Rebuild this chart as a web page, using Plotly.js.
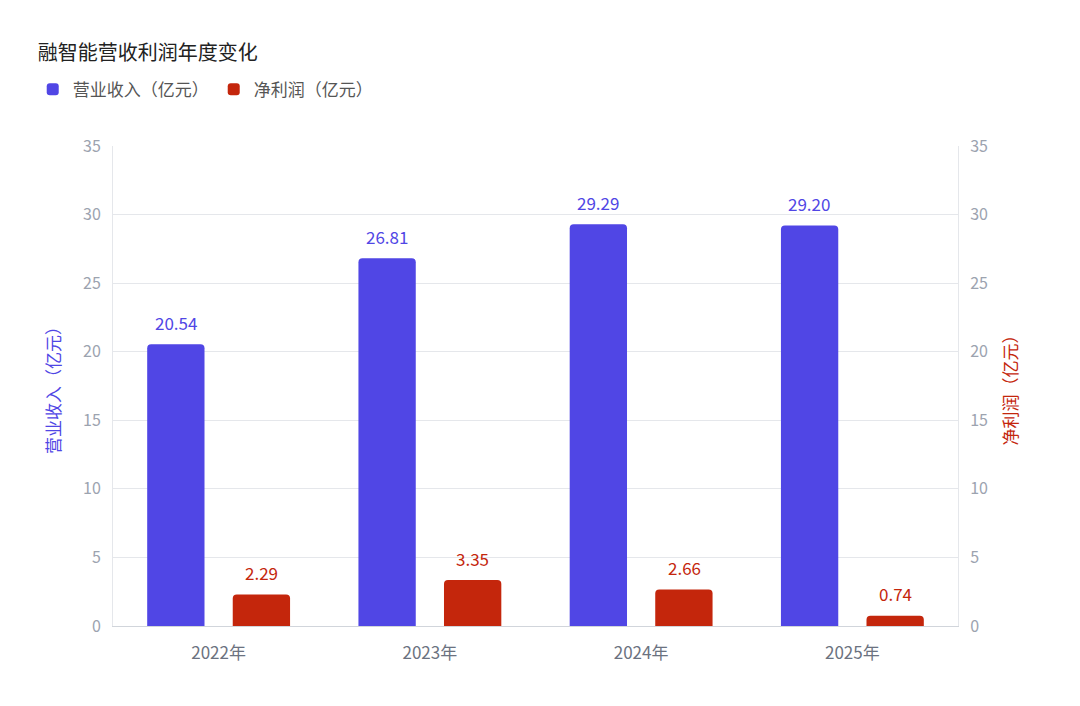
<!DOCTYPE html>
<html>
<head>
<meta charset="utf-8">
<script src="https://cdn.plot.ly/plotly-3.0.1.min.js"></script>
<style>body{margin:0;background:#fff}</style>
</head>
<body>
<div id="chart" style="width:1080px;height:706px"></div>
<script>
var years = ['2022年', '2023年', '2024年', '2025年'];
var revenue = [20.54, 26.81, 29.29, 29.20];
var profit = [2.29, 3.35, 2.66, 0.74];

var font = '"Noto Sans CJK SC", "Noto Sans", sans-serif';
var blue = '#5046e5';
var red = '#c4260c';

var trace1 = {
  x: years, y: revenue, type: 'bar', name: '营业收入（亿元）',
  marker: { color: blue, cornerradius: 4 },
  offsetgroup: 'a', yaxis: 'y', hoverinfo: 'y'
};
var trace2 = {
  x: years, y: profit, type: 'bar', name: '净利润（亿元）',
  marker: { color: red, cornerradius: 4 },
  offsetgroup: 'b', yaxis: 'y2', hoverinfo: 'y'
};

// value labels sit ~22px above each bar, shifted to its side of the group
var annotations = [];
years.forEach(function (yr, i) {
  annotations.push({ x: yr, y: revenue[i], xref: 'x', yref: 'y', text: revenue[i].toFixed(2),
    showarrow: false, yshift: 22, xshift: -43, font: { color: blue, size: 17 } });
  annotations.push({ x: yr, y: profit[i], xref: 'x', yref: 'y2', text: profit[i].toFixed(2),
    showarrow: false, yshift: 22, xshift: 43, font: { color: red, size: 17 } });
});

var layout = {
  width: 1080, height: 706,
  font: { family: font, size: 15, color: '#6b7280' },
  title: { text: '融智能营收利润年度变化', x: 0.035, xanchor: 'left', y: 0.935, font: { size: 20, color: '#222' } },
  showlegend: true,
  legend: { orientation: 'h', x: -0.095, y: 1.155, xanchor: 'left', font: { size: 17, color: '#555' } },
  margin: { l: 113, r: 122, t: 146, b: 80 },
  barmode: 'group', bargap: 0.19, bargroupgap: 0.33,
  annotations: annotations,
  xaxis: { showline: true, linecolor: '#d1d5db', ticks: '', ticklabelstandoff: 12, tickfont: { size: 17, color: '#6b7280' } },
  yaxis: {
    range: [0, 35], dtick: 5, gridcolor: '#e5e7eb', zeroline: false, showline: true, linecolor: '#e5e7eb',
    ticklabelstandoff: 8, tickfont: { color: '#9ca3af', size: 16 },
    title: { text: '营业收入（亿元）', font: { color: blue, size: 17 }, standoff: 18 }
  },
  yaxis2: {
    range: [0, 35], dtick: 5, overlaying: 'y', side: 'right', showgrid: false, zeroline: false,
    showline: true, linecolor: '#e5e7eb',
    ticklabelstandoff: 8, tickfont: { color: '#9ca3af', size: 16 },
    title: { text: '净利润（亿元）', font: { color: red, size: 17 }, standoff: 18 }
  }
};

Plotly.newPlot('chart', [trace1, trace2], layout, { displayModeBar: false });
</script>
</body>
</html>
